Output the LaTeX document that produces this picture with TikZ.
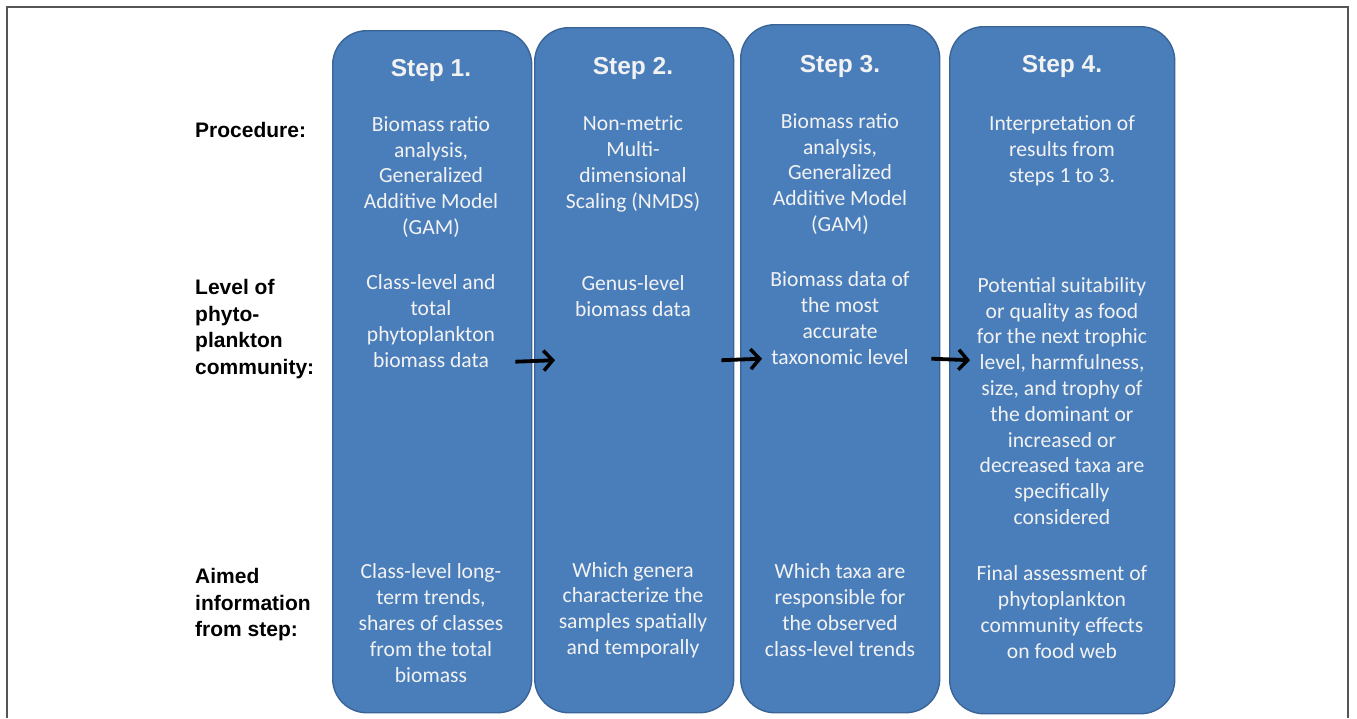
\documentclass[tikz,border=0pt]{standalone}
\usepackage{fontspec}
\setmainfont{Carlito}
\newfontfamily\headfont{Liberation Sans}
\usepackage{xcolor}
\definecolor{stepfill}{HTML}{4A7EBB}
\definecolor{stepline}{HTML}{3A6496}
\definecolor{framegray}{HTML}{555555}
\definecolor{celltext}{HTML}{F2F2F2}
\usetikzlibrary{arrows.meta}

\begin{document}
\begin{tikzpicture}[
  x=1pt, y=1pt,
  stepbox/.style={
    draw=stepline,
    fill=stepfill,
    line width=1.4pt,
    rounded corners=34pt,
    minimum width=199pt,
    inner sep=0pt
  },
  steptitle/.style={
    font=\headfont\bfseries\fontsize{24.5}{28}\selectfont,
    text=celltext
  },
  cell/.style={
    font=\fontsize{21.6}{25.8}\selectfont,
    text=celltext,
    align=center,
    inner sep=0pt
  },
  rowlabel/.style={
    font=\headfont\bfseries\fontsize{21}{26.5}\selectfont,
    align=left,
    anchor=west,
    inner sep=0pt
  },
  arr/.style={
    -{Straight Barb[length=9pt,width=20pt,line width=3.5pt]},
    line width=3.8pt,
    black
  }
]
\useasboundingbox (0,0) rectangle (1357,-718);

% outer frame
\draw[framegray, line width=1.5pt] (7,-718) -- (7,-7) -- (1348,-7) -- (1348,-718);

% Step boxes
\node[stepbox, minimum height=682pt, anchor=north west] (s1) at (332,-30) {};
\node[stepbox, minimum height=685pt, anchor=north west] (s2) at (534,-27) {};
\node[stepbox, minimum height=688pt, anchor=north west] (s3) at (740,-24) {};
\node[stepbox, minimum height=687pt, minimum width=225pt, anchor=north west] (s4) at (949,-26) {};

% Row labels
\node[rowlabel] (lproc) at (195,-130) {Procedure:};
\node[rowlabel] (llevel) at (195,-329) {Level of\\phyto-\\plankton\\community:};
\node[rowlabel] (laim) at (195,-605) {Aimed\\information\\from step:};

% Titles
\node[steptitle] (t1) at (431,-70) {Step 1.};
\node[steptitle] (t2) at (633,-68) {Step 2.};
\node[steptitle] (t3) at (840,-66) {Step 3.};
\node[steptitle] (t4) at (1062,-66) {Step 4.};

% Step 1
\node[cell] (p1) at (431,-177) {Biomass ratio\\analysis,\\Generalized\\Additive Model\\(GAM)};
\node[cell] (v1) at (431,-321) {Class-level and\\total\\phytoplankton\\biomass data};
\node[cell] (a1) at (431,-623) {Class-level long-\\term trends,\\shares of classes\\from the total\\biomass};

% Step 2
\node[cell] (p2) at (633,-164) {Non-metric\\Multi-\\dimensional\\Scaling (NMDS)};
\node[cell] (v2) at (633,-296) {Genus-level\\biomass data};
\node[cell] (a2) at (633,-610) {Which genera\\characterize the\\samples spatially\\and temporally};

% Step 3
\node[cell] (p3) at (840,-174) {Biomass ratio\\analysis,\\Generalized\\Additive Model\\(GAM)};
\node[cell] (v3) at (840,-318) {Biomass data of\\the most\\accurate\\taxonomic level};
\node[cell] (a3) at (840,-610) {Which taxa are\\responsible for\\the observed\\class-level trends};

% Step 4
\node[cell] (p4) at (1062,-151) {Interpretation of\\results from\\steps 1 to 3.};
\node[cell] (v4) at (1062,-401) {Potential suitability\\or quality as food\\for the next trophic\\level, harmfulness,\\size, and trophy of\\the dominant or\\increased or\\decreased taxa are\\specifically\\considered};
\node[cell] (a4) at (1062,-612) {Final assessment of\\phytoplankton\\community effects\\on food web};

% Arrows
\draw[arr] ([shift={(-17,10)}]s1.east) -- ([shift={(21,10)}]s2.west);
\draw[arr] ([shift={(-13,10)}]s2.east) -- ([shift={(22,10)}]s3.west);
\draw[arr] ([shift={(-9,10)}]s3.east) -- ([shift={(21,10)}]s4.west);

\end{tikzpicture}
\end{document}
